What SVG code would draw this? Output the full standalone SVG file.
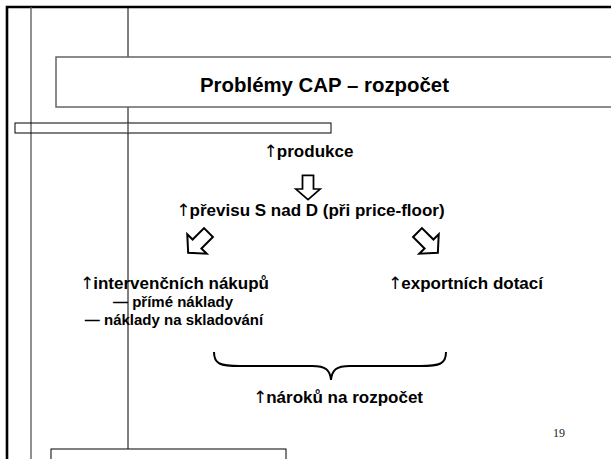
<svg xmlns="http://www.w3.org/2000/svg" width="611" height="459" viewBox="0 0 611 459">
<style>
.t{font-family:"Liberation Sans",Arial,sans-serif;font-weight:bold;fill:#000}
.ar{font-family:"DejaVu Sans",sans-serif;font-weight:normal}
.ln{stroke:#000;stroke-width:1;fill:none}
.gl{stroke:#555;stroke-width:1.3;fill:none}
.blk{fill:#fff;stroke:#000;stroke-width:1.6;stroke-linejoin:miter}
</style>
<defs>
<polygon id="barrow" points="-5,-13 5,-13 5,0 11,0 0,10 -11,0 -5,0"/>
</defs>
<rect width="611" height="459" fill="#fff"/>
<g id="frame">
<path d="M7,470 V7 H620" fill="none" stroke="#000" stroke-width="2.6"/>
<line x1="31" y1="7" x2="31" y2="470" class="gl"/>
<line x1="128" y1="7" x2="128" y2="57" class="ln"/>
<line x1="128" y1="107" x2="128" y2="449" class="ln"/>
</g>
<g id="title">
<rect x="56" y="57" width="570" height="50" fill="#fff" stroke="#666" stroke-width="1.5"/>
<text x="324.5" y="92" class="t" font-size="20" text-anchor="middle" textLength="249" lengthAdjust="spacingAndGlyphs">Problémy CAP – rozpočet</text>
</g>
<g id="bar">
<rect x="15" y="123" width="316" height="10" fill="none" stroke="#000" stroke-width="1"/>
<line x1="128" y1="123" x2="128" y2="133" stroke="#888" stroke-width="1"/>
</g>
<g id="bottombox">
<rect x="51" y="449" width="235" height="20" fill="#fff" stroke="#000" stroke-width="1"/>
</g>
<g id="produkce"><text x="308.5" y="157" class="t" font-size="17" text-anchor="middle"><tspan class="ar">↑</tspan><tspan dx="-1">produkce</tspan></text></g>
<g id="previs"><text x="310.5" y="216" class="t" font-size="17" text-anchor="middle"><tspan class="ar">↑</tspan><tspan dx="-1">převisu S nad D (při price-floor)</tspan></text></g>
<g id="intervence">
<text x="174.5" y="289" class="t" font-size="17" text-anchor="middle"><tspan class="ar">↑</tspan><tspan dx="-1">intervenčních nákupů</tspan></text>
<text x="173" y="307" class="t" font-size="15" text-anchor="middle">— přímé náklady</text>
<text x="174" y="325" class="t" font-size="15" text-anchor="middle">— náklady na skladování</text>
</g>
<g id="export"><text x="465.5" y="289" class="t" font-size="17" text-anchor="middle"><tspan class="ar">↑</tspan><tspan dx="-1">exportních dotací</tspan></text></g>
<g id="naroky"><text x="338" y="403" class="t" font-size="17" text-anchor="middle"><tspan class="ar">↑</tspan><tspan dx="-1">nároků na rozpočet</tspan></text></g>
<g id="pagenum"><text x="559" y="437" font-family="Liberation Serif,Times New Roman,serif" font-size="12" text-anchor="middle" fill="#222">19</text></g>
<g id="connectors">
<use href="#barrow" class="blk" transform="translate(308,189) scale(1.1,1.05)"/>
<use href="#barrow" class="blk" transform="translate(197,244) rotate(45) scale(1.25)"/>
<use href="#barrow" class="blk" transform="translate(429,244) rotate(-45) scale(1.25)"/>
<path d="M214,352 C214,364 220,366 240,366 L312,366 C326,366 330,370 331,380 C332,370 336,366 350,366 L420,366 C440,366 446,364 446,352" fill="none" stroke="#000" stroke-width="2"/>
</g>
</svg>
